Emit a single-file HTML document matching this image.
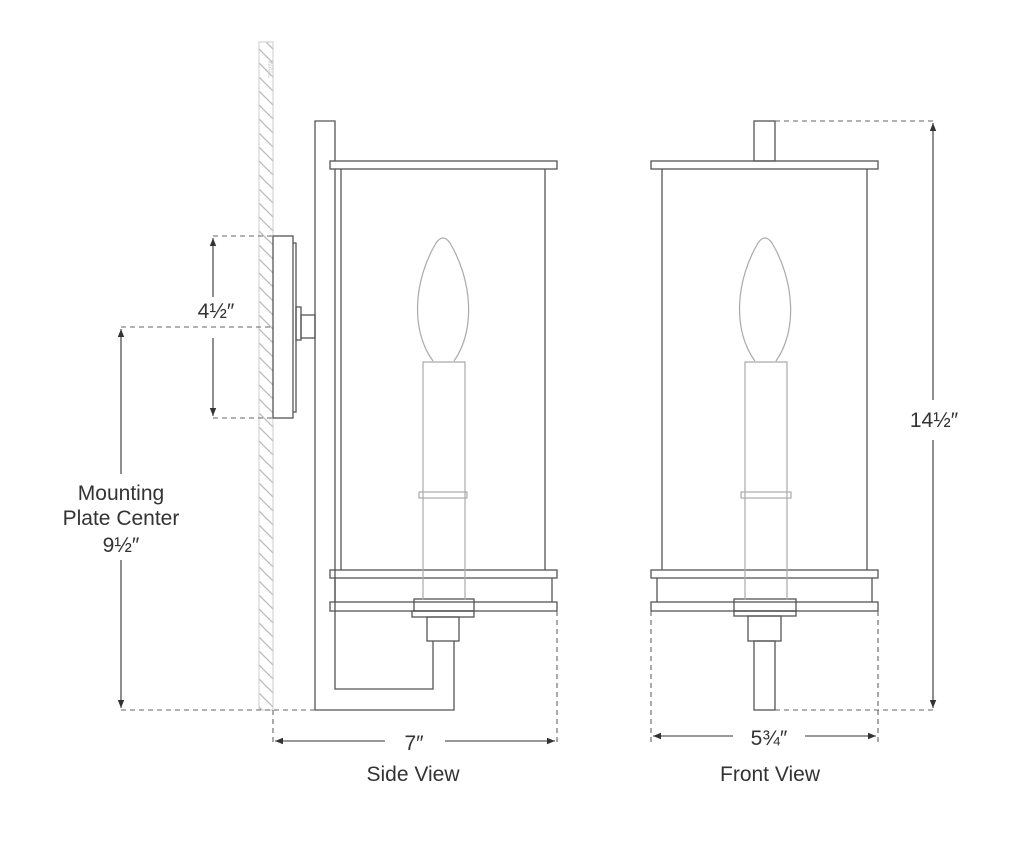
<!DOCTYPE html>
<html><head><meta charset="utf-8"><style>
html,body{margin:0;padding:0;background:#fff}
svg{display:block}
text{font-family:"Liberation Sans",sans-serif;fill:#333}
</style></head><body>
<svg width="1024" height="846" viewBox="0 0 1024 846" xmlns="http://www.w3.org/2000/svg">
<defs>
<pattern id="h" width="14" height="14" patternUnits="userSpaceOnUse">
<path d="M-2,-2 L16,16 M-2,12 L2,16 M12,-2 L16,2" stroke="#bbb" stroke-width="1.3"/>
</pattern>
<marker id="a" viewBox="0 0 10 10" refX="10" refY="5" markerWidth="8" markerHeight="8" orient="auto-start-reverse" markerUnits="userSpaceOnUse"><path d="M0,1 L10,5 L0,9z" fill="#333"/></marker>
</defs>
<!-- wall -->
<rect x="259" y="42" width="14" height="668" fill="url(#h)" stroke="#ccc" stroke-width="1"/>
<text x="0" y="0" font-size="7" fill="#ccc" transform="translate(268,60) rotate(90)" style="fill:#ccc">WALL</text>
<g fill="none" stroke="#555" stroke-width="1.3">
<!-- side view -->
<rect x="273" y="236" width="20" height="182"/>
<path d="M293,243 H296 V412 H293"/>
<rect x="296" y="307" width="5" height="33"/>
<rect x="301" y="315" width="14" height="23"/>
<path d="M315,710 V121 H335 V161"/>
<path d="M335,169 V689 H433 V641"/>
<path d="M315,710 H454 V641"/>
<rect x="330" y="161" width="227" height="8"/>
<line x1="341" y1="169" x2="341" y2="570"/>
<line x1="545" y1="169" x2="545" y2="570"/>
<rect x="330" y="570" width="227" height="8"/>
<line x1="335" y1="578" x2="335" y2="602"/>
<line x1="552" y1="578" x2="552" y2="602"/>
<rect x="330" y="602" width="227" height="9"/>
<rect x="414" y="599" width="60" height="12"/>
<rect x="412" y="611" width="62" height="6"/>
<rect x="427" y="617" width="32" height="24"/>
<!-- front view -->
<rect x="754" y="121" width="21" height="40"/>
<rect x="651" y="161" width="227" height="8"/>
<line x1="662" y1="169" x2="662" y2="570"/>
<line x1="867" y1="169" x2="867" y2="570"/>
<rect x="651" y="570" width="227" height="8"/>
<line x1="657" y1="578" x2="657" y2="602"/>
<line x1="872" y1="578" x2="872" y2="602"/>
<rect x="651" y="602" width="227" height="9"/>
<rect x="734" y="599" width="62" height="12"/>
<rect x="734" y="611" width="62" height="5"/>
<rect x="748" y="616" width="33" height="25"/>
<rect x="754" y="641" width="21" height="69"/>
</g>
<!-- candles (light) -->
<g fill="none" stroke="#aaa" stroke-width="1.2">
<path d="M423,600 V362 H465 V600"/>
<rect x="419" y="492" width="48" height="6"/>
<path d="M433,361 C410,330 414,280 436,243 Q443,233 450,243 C472,280 476,330 454,361"/>
<path d="M745,600 V362 H787 V600"/>
<rect x="741" y="492" width="50" height="6"/>
<path d="M755,361 C732,330 736,280 758,243 Q765,233 772,243 C794,280 798,330 776,361"/>
</g>
<!-- dimension lines -->
<g fill="none" stroke="#666" stroke-width="1.1" stroke-dasharray="5,4">
<line x1="213" y1="236" x2="273" y2="236"/>
<line x1="213" y1="418" x2="273" y2="418"/>
<line x1="121" y1="327" x2="273" y2="327"/>
<line x1="121" y1="710" x2="315" y2="710"/>
<line x1="273" y1="710" x2="273" y2="745"/>
<line x1="557" y1="611" x2="557" y2="745"/>
<line x1="775" y1="121" x2="937" y2="121"/>
<line x1="775" y1="710" x2="937" y2="710"/>
<line x1="651" y1="611" x2="651" y2="745"/>
<line x1="878" y1="611" x2="878" y2="745"/>
</g>
<g fill="none" stroke="#333" stroke-width="1.1">
<line x1="213" y1="297" x2="213" y2="238" marker-end="url(#a)"/>
<line x1="213" y1="338" x2="213" y2="416" marker-end="url(#a)"/>
<line x1="121" y1="474" x2="121" y2="329" marker-end="url(#a)"/>
<line x1="121" y1="560" x2="121" y2="708" marker-end="url(#a)"/>
<line x1="385" y1="741" x2="275" y2="741" marker-end="url(#a)"/>
<line x1="445" y1="741" x2="555" y2="741" marker-end="url(#a)"/>
<line x1="933" y1="400" x2="933" y2="123" marker-end="url(#a)"/>
<line x1="933" y1="440" x2="933" y2="708" marker-end="url(#a)"/>
<line x1="733" y1="736" x2="653" y2="736" marker-end="url(#a)"/>
<line x1="805" y1="736" x2="876" y2="736" marker-end="url(#a)"/>
</g>
<g font-size="21" text-anchor="middle">
<text x="216" y="318">4½″</text>
<text x="121" y="500">Mounting</text>
<text x="121" y="525">Plate Center</text>
<text x="121" y="552">9½″</text>
<text x="414" y="750">7″</text>
<text x="413" y="781">Side View</text>
<text x="934" y="427">14½″</text>
<text x="769" y="745">5¾″</text>
<text x="770" y="781">Front View</text>
</g>
</svg>
</body></html>
